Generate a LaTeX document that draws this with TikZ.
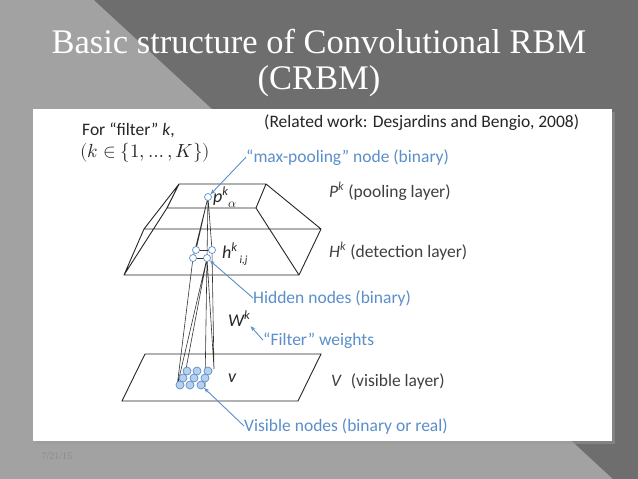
\documentclass[tikz,border=0pt]{standalone}
\usepackage{fontspec}
\setmainfont{Liberation Serif}
\newfontfamily\calfnt{Carlito}
\usepackage{unicode-math}
\setmathfont{Latin Modern Math}
\usetikzlibrary{arrows.meta}
\definecolor{bgl}{HTML}{A2A2A2}
\definecolor{bgd}{HTML}{6E6E6E}
\definecolor{lblue}{HTML}{5B8FC9}
\definecolor{nfill}{HTML}{B7D0EE}
\definecolor{txt}{HTML}{262626}
\definecolor{lay}{HTML}{404040}
\begin{document}
\begin{tikzpicture}[x=1pt,y=-1pt,
  edge/.style={line width=0.9pt,draw=black!85},
  lab/.style={font=\calfnt\fontsize{17.5}{19}\selectfont,text=txt,inner sep=0pt,anchor=west},
  blab/.style={font=\calfnt\fontsize{17.5}{19}\selectfont,text=lblue,inner sep=0pt,anchor=west},
  ilab/.style={lab,font=\calfnt\itshape\fontsize{18}{19}\selectfont},
  ptr/.style={draw=lblue,line width=0.9pt,-{Stealth[length=5pt,width=4pt]}},
  unit/.style={circle,draw=lblue,line width=0.7pt,fill=nfill,inner sep=0pt,minimum size=8pt},
  hunit/.style={circle,draw=lblue,line width=0.7pt,fill=white,inner sep=0pt,minimum size=7pt},
  conn/.style={line width=0.6pt,draw=black!80}]
\useasboundingbox (0,0) rectangle (638,479);
\fill[bgl] (0,0) rectangle (638,479);
\fill[bgd] (94,0) -- (638,0) -- (638,479) -- (613,479) -- cycle;
\fill[black!40,opacity=0.5] (36,112) rectangle (615,444);
\fill[white] (33,109) rectangle (612,441);
% title
\node[text=white,font=\fontsize{34.5}{37}\selectfont,anchor=base] (t1) at (319,53) {Basic structure of Convolutional RBM};
\node[text=white,font=\fontsize{34.5}{37}\selectfont,anchor=base] (t2) at (319,89) {(CRBM)};
\node[text=black!45,font=\fontsize{10}{11}\selectfont,anchor=base west] (date) at (38,459) {7/21/15};
% pyramid
\coordinate (A) at (179,184); \coordinate (B) at (266,184);
\coordinate (C) at (256,208); \coordinate (D) at (167,208);
\coordinate (E) at (144,229); \coordinate (F) at (321,229);
\coordinate (G) at (124,275); \coordinate (H) at (299,275);
\draw[edge,line join=round] (A)--(B)--(C)--(D)--cycle (A)--(E)--(F)--(B) (E)--(G)--(H)--(F) (D)--(G) (C)--(H);
% visible layer
\coordinate (V1) at (145,354); \coordinate (V2) at (321,354);
\coordinate (V3) at (298,401); \coordinate (V4) at (122,401);
\draw[edge] (V1)--(V2)--(V3)--(V4)--cycle;
% connections
\coordinate (pc) at (208,197);
\coordinate (h1) at (196,250); \coordinate (h2) at (212,250);
\coordinate (h3) at (193,258); \coordinate (h4) at (207,258);
\draw[conn] (pc)--(h1) (pc)--(h3) (pc)--(h4) (pc)--(h2);
\draw[conn] (h1)--(h2) (h3)--(h4);
\coordinate (c1) at (177,387); \coordinate (c2) at (186,369);
\coordinate (c3) at (214,369); \coordinate (c4) at (205,387);
\draw[conn] (h4)--(c1) (h4)--(c2) (h4)--(c3) (h4)--(c4) (h2)--(c3) (h3)--(c1);
% units
\node[hunit] (p) at (pc) {};
\foreach \n in {1,...,4}{\node[hunit] (hu\n) at (h\n) {};}
\foreach \i/\x/\y in {1/187/371,2/197/371,3/208/371,4/183/378,5/194/378,6/205/378,7/180/385,8/190/385,9/201/385}{\node[unit] (v\i) at (\x,\y) {};}
% node labels
\node[ilab,anchor=base west] (pl) at (213,202) {p\textsuperscript{k}\raisebox{-5pt}{$\scriptstyle\alpha$}};
\node[ilab,anchor=base west] (hl) at (222,258) {h\textsuperscript{k}\raisebox{-5pt}{\fontsize{11}{11}\selectfont\,i,j}};
\node[ilab,anchor=base west] (wl) at (228,326) {W\textsuperscript{k}};
\node[ilab,anchor=base west] (vl) at (228,382) {v};
% layer labels
\node[lab,anchor=base west,text=lay] (Pk) at (329,197) {\textit{P}\textsuperscript{\textit{k}} (pooling layer)};
\node[lab,anchor=base west,text=lay] (Hk) at (329,257) {\textit{H}\textsuperscript{\textit{k}} (detection layer)};
\node[lab,anchor=base west,text=lay] (Vk) at (331,386) {\textit{V}\; (visible layer)};
% top texts
\node[lab,anchor=base west] (ff) at (82,135) {For “filter” \textit{k},};
\node[lab,anchor=base west,font=\fontsize{19}{20}\selectfont] (km) at (80,157) {$(k\in\{1,\ldots,K\})$};
\node[lab,anchor=base west] (rw) at (264,127) {(Related work: Desjardins and Bengio, 2008)};
% blue annotations
\node[blab,anchor=base west] (mp) at (246,162) {“max-pooling” node (binary)};
\node[blab,anchor=base west] (hn) at (253,303) {Hidden nodes (binary)};
\node[blab,anchor=base west] (fw) at (263,345) {“Filter” weights};
\node[blab,anchor=base west] (vn) at (244,431) {Visible nodes (binary or real)};
\draw[ptr] (mp.west) -- (p);
\draw[ptr] (hn.west) -- (hu4);
\draw[ptr] (fw.west) -- (wl.south east);
\draw[ptr] (vn.west) -- (v9);
\end{tikzpicture}
\end{document}
